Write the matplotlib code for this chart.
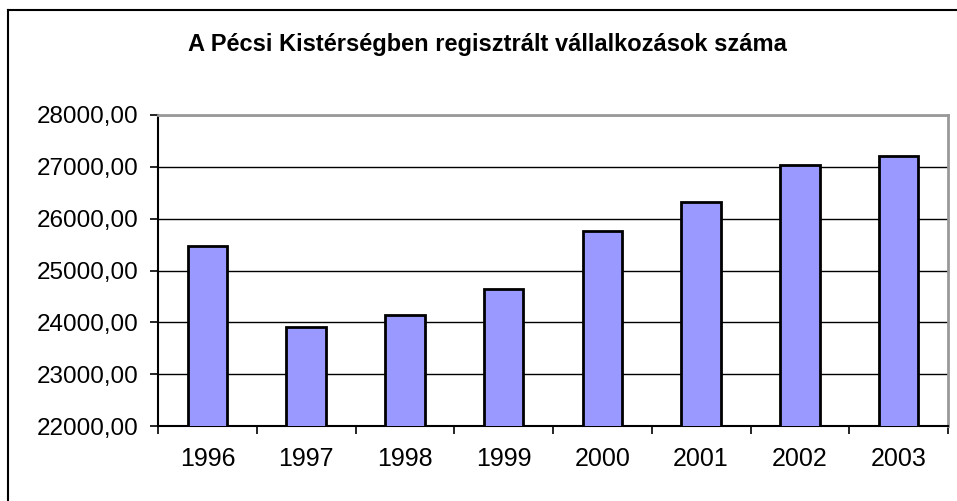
import matplotlib
matplotlib.use("Agg")
import matplotlib.pyplot as plt
from matplotlib.lines import Line2D
from matplotlib.ticker import FixedLocator, FuncFormatter

years = ["1996", "1997", "1998", "1999", "2000", "2001", "2002", "2003"]
values = [25474, 23917, 24147, 24647, 25756, 26321, 27026, 27205]
title = "A Pécsi Kistérségben regisztrált vállalkozások száma"
y_ticks = [22000, 23000, 24000, 25000, 26000, 27000, 28000]

plt.rcParams['font.family'] = ['Liberation Sans', 'DejaVu Sans']

W, H = 957, 501
fig = plt.figure(figsize=(W / 100, H / 100), dpi=100)
ax = fig.add_axes([158 / W, 75 / H, (948 - 158) / W, (426 - 115) / H])

x = list(range(len(years)))
ax.bar(x, values, width=0.4, color="#9999FF", edgecolor="black", linewidth=2, zorder=3)

ax.set_ylim(22000, 28000)
ax.set_xlim(-0.5, len(years) - 0.5)
ax.yaxis.set_major_locator(FixedLocator(y_ticks))
ax.yaxis.set_major_formatter(FuncFormatter(lambda v, p: f"{v:.2f}".replace(".", ",")))
ax.grid(axis="y", color="black", linewidth=1, zorder=1)

ax.set_xticks(x)
ax.set_xticklabels(years)
ax.xaxis.set_minor_locator(FixedLocator([i - 0.5 for i in range(len(years) + 1)]))
ax.tick_params(axis="x", which="major", length=0, pad=15, labelsize=18)
ax.tick_params(axis="x", which="minor", length=6, width=1.2, direction="out", color="black")
ax.tick_params(axis="y", length=6, width=1.2, direction="out", pad=8, labelsize=17.5, color="black")

for s in ["left", "bottom"]:
    ax.spines[s].set_color("black")
    ax.spines[s].set_linewidth(1.5)
for s in ["top", "right"]:
    ax.spines[s].set_color("#999999")
    ax.spines[s].set_linewidth(2)

fig.text(487 / W, 1 - 45 / H, title, ha="center", va="center", fontsize=17, fontweight="bold")

# outer chart border (top and left visible; rest cropped)
fig.add_artist(Line2D([8 / W, 1.0], [1 - 10 / H, 1 - 10 / H], transform=fig.transFigure, color="black", linewidth=1.5))
fig.add_artist(Line2D([8 / W, 8 / W], [0.0, 1 - 10 / H], transform=fig.transFigure, color="black", linewidth=1.5))

fig.savefig("out.png", dpi=100)
